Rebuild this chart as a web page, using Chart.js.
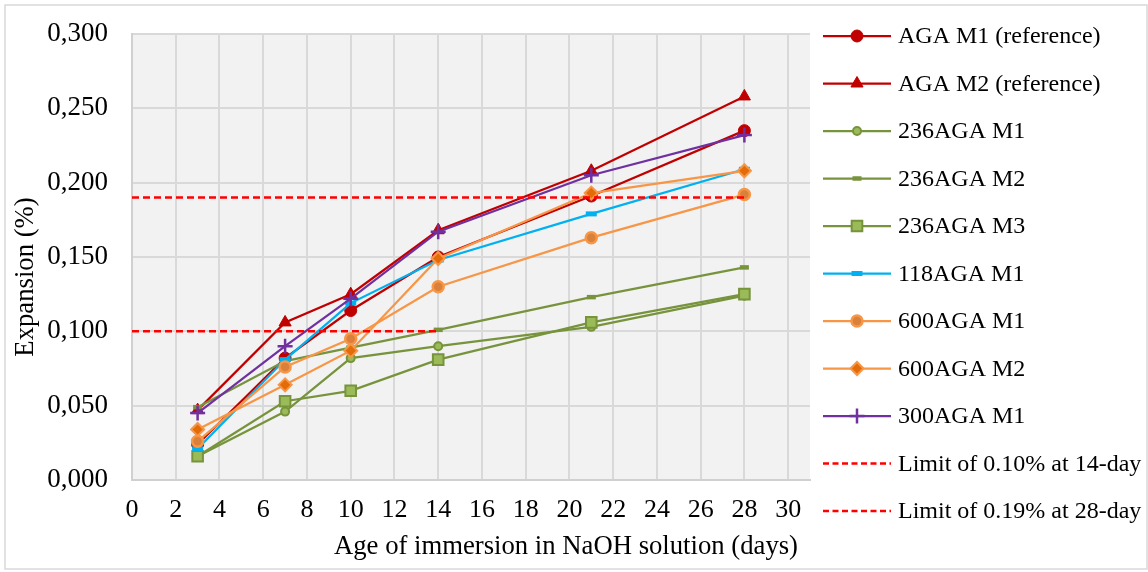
<!DOCTYPE html>
<html>
<head>
<meta charset="utf-8">
<script src="https://cdn.jsdelivr.net/npm/chart.js@4/dist/chart.umd.min.js"></script>
<style>
html,body{margin:0;padding:0;background:#ffffff;}
#wrap{width:1148px;height:572px;position:relative;}
canvas{display:block;}
</style>
</head>
<body>
<div id="wrap"><canvas id="c" width="1148" height="572"></canvas></div>
<script>
// ---- data ----
const days = [3, 7, 10, 14, 21, 28];
const agaM1 = [0.024, 0.082, 0.114, 0.150, 0.191, 0.235];
const agaM2 = [0.047, 0.106, 0.125, 0.168, 0.208, 0.258];
const aga236M1 = [0.016, 0.046, 0.082, 0.090, 0.103, 0.124];
const aga236M2 = [0.049, 0.080, 0.089, 0.101, 0.123, 0.143];
const aga236M3 = [0.016, 0.053, 0.060, 0.081, 0.106, 0.125];
const aga118M1 = [0.021, 0.081, 0.119, 0.148, 0.179, 0.209];
const aga600M1 = [0.026, 0.076, 0.095, 0.130, 0.163, 0.192];
const aga600M2 = [0.034, 0.064, 0.087, 0.149, 0.193, 0.208];
const aga300M1 = [0.045, 0.090, 0.122, 0.167, 0.205, 0.232];
const limit14Days = [0, 14];
const limit14Values = [0.10, 0.10];
const limit28Days = [0, 28];
const limit28Values = [0.19, 0.19];
const seriesNames = ["AGA M1 (reference)", "AGA M2 (reference)", "236AGA M1", "236AGA M2", "236AGA M3", "118AGA M1", "600AGA M1", "600AGA M2", "300AGA M1", "Limit of 0.10% at 14-day", "Limit of 0.19% at 28-day"];
const xAxisTitle = "Age of immersion in NaOH solution (days)";
const yAxisTitle = "Expansion (%)";
const xTickMin = 0, xTickMax = 31, xTickStep = 2, xLastLabel = 30;
const yTickMin = 0, yTickMax = 0.3, yTickStep = 0.05;

const FONT = '"Liberation Serif", "Times New Roman", serif';

function pts(xs, ys) { return xs.map((x, i) => ({ x: x, y: ys[i] })); }

const styles = [
  { c: '#c00000', ps: 'circle', r: 6, bw: 1, pb: '#c00000', pbc: '#c00000' },
  { c: '#c00000', ps: 'triangle', r: 7, bw: 1, pb: '#c00000', pbc: '#c00000' },
  { c: '#77933c', ps: 'circle', r: 4, bw: 2, pb: '#9bbb59', pbc: '#77933c' },
  { c: '#77933c', ps: 'line', r: 4.5, bw: 4.5, pb: '#77933c', pbc: '#77933c' },
  { c: '#77933c', ps: 'rect', r: 7.5, bw: 2, pb: '#9bbb59', pbc: '#77933c' },
  { c: '#00b0f0', ps: 'line', r: 5.5, bw: 5, pb: '#00b0f0', pbc: '#00b0f0' },
  { c: '#f79646', ps: 'circle', r: 5.5, bw: 2.5, pb: '#d9803a', pbc: '#f79646' },
  { c: '#f79646', ps: 'rectRot', r: 6.5, bw: 2, pb: '#e36c09', pbc: '#f79646' },
  { c: '#7030a0', ps: 'cross', r: 7.5, bw: 2.5, pb: '#7030a0', pbc: '#7030a0' }
];
const seriesData = [agaM1, agaM2, aga236M1, aga236M2, aga236M3, aga118M1, aga600M1, aga600M2, aga300M1];

const datasets = seriesData.map((arr, i) => ({
  label: seriesNames[i],
  data: pts(days, arr),
  borderColor: styles[i].c,
  backgroundColor: styles[i].c,
  borderWidth: 2.25,
  pointStyle: styles[i].ps,
  pointRadius: styles[i].r,
  pointBorderWidth: styles[i].bw,
  pointBackgroundColor: styles[i].pb,
  pointBorderColor: styles[i].pbc,
  pointHoverRadius: styles[i].r,
  tension: 0,
  order: 30 - i
}));
datasets.push({
  label: seriesNames[9], data: pts(limit14Days, limit14Values),
  borderColor: '#ff0000', backgroundColor: '#ff0000', borderWidth: 2.5, borderDash: [7, 4],
  pointRadius: 0, order: 2
});
datasets.push({
  label: seriesNames[10], data: pts(limit28Days, limit28Values),
  borderColor: '#ff0000', backgroundColor: '#ff0000', borderWidth: 2.5, borderDash: [7, 4],
  pointRadius: 0, order: 1
});

const decorPlugin = {
  id: 'decor',
  beforeDraw(chart) {
    const ctx = chart.ctx, a = chart.chartArea;
    ctx.save();
    ctx.fillStyle = '#ffffff';
    ctx.fillRect(0, 0, chart.width, chart.height);
    ctx.strokeStyle = '#d9d9d9';
    ctx.lineWidth = 1.5;
    ctx.strokeRect(5, 5, chart.width - 6, chart.height - 8);
    ctx.fillStyle = '#f2f2f2';
    ctx.fillRect(a.left, a.top, a.right - a.left, a.bottom - a.top);
    ctx.restore();
  },
  afterDraw(chart) {
    const ctx = chart.ctx;
    ctx.save();
    ctx.fillStyle = '#000000';
    ctx.font = '26.7px ' + FONT;
    ctx.textAlign = 'center';
    ctx.textBaseline = 'middle';
    ctx.fillText(xAxisTitle, 566, 547);
    ctx.translate(26, 277);
    ctx.rotate(-Math.PI / 2);
    ctx.fillText(yAxisTitle, 0, 0);
    ctx.restore();

    // legend
    const x0 = 823, x1 = 891, xm = 857, xt = 898;
    const rowY0 = 36, rowGap = 47.5;
    chart.data.datasets.forEach((ds, i) => {
      const y = rowY0 + i * rowGap;
      ctx.save();
      ctx.strokeStyle = ds.borderColor;
      ctx.lineWidth = ds.borderWidth;
      if (ds.borderDash) ctx.setLineDash([6, 3.5]);
      ctx.beginPath();
      ctx.moveTo(x0, y);
      ctx.lineTo(x1, y);
      ctx.stroke();
      ctx.setLineDash([]);
      if (ds.pointRadius > 0) {
        ctx.fillStyle = ds.pointBackgroundColor;
        ctx.strokeStyle = ds.pointBorderColor;
        ctx.lineWidth = ds.pointBorderWidth;
        Chart.helpers.drawPoint(ctx, {
          pointStyle: ds.pointStyle, rotation: 0, radius: ds.pointRadius, borderWidth: ds.pointBorderWidth
        }, xm, y);
      }
      ctx.fillStyle = '#000000';
      ctx.font = '24px ' + FONT;
      ctx.textAlign = 'left';
      ctx.textBaseline = 'middle';
      ctx.fillText(ds.label, xt, y + 1);
      ctx.restore();
    });
  }
};

new Chart(document.getElementById('c'), {
  type: 'line',
  data: { datasets: datasets },
  plugins: [decorPlugin],
  options: {
    responsive: false,
    animation: false,
    devicePixelRatio: 1,
    layout: { padding: { left: 5, right: 338, top: 34, bottom: 5 } },
    plugins: { legend: { display: false }, tooltip: { enabled: false } },
    elements: { line: { tension: 0 } },
    scales: {
      x: {
        type: 'linear', min: xTickMin, max: xTickMax,
        afterFit(s) { s.height = 572 - 480 - 5; },
        afterBuildTicks(s) {
          const t = [];
          for (let v = xTickMin; v <= xLastLabel; v += xTickStep) t.push({ value: v });
          t.push({ value: xTickMax });
          s.ticks = t;
        },
        ticks: {
          autoSkip: false, maxRotation: 0, padding: 15, color: '#000000',
          font: { family: FONT, size: 26 },
          callback: (v) => (v <= xLastLabel ? String(v) : '')
        },
        grid: {
          drawTicks: false, lineWidth: 2,
          color: (c) => (c.tick && c.tick.value > xLastLabel ? 'rgba(0,0,0,0)' : '#d9d9d9')
        },
        border: { color: '#d0d0d0', width: 2 }
      },
      y: {
        type: 'linear', min: yTickMin, max: yTickMax,
        afterFit(s) { s.width = 127; },
        ticks: {
          stepSize: yTickStep, padding: 3, color: '#000000',
          font: { family: FONT, size: 27 },
          callback: (v) => Number(v).toFixed(3).replace('.', ',')
        },
        grid: { drawTicks: true, tickLength: 21, tickColor: 'rgba(0,0,0,0)', lineWidth: 2, color: '#d9d9d9' },
        border: { color: '#d0d0d0', width: 2 }
      }
    }
  }
});
</script>
</body>
</html>
